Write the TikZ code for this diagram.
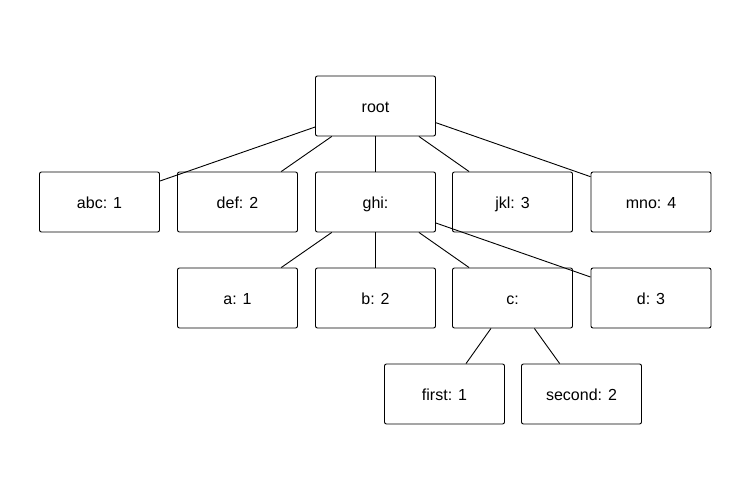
\documentclass[tikz,border=0pt]{standalone}
\usepackage{fontspec}
\setmainfont{Liberation Sans}
\begin{document}
\begin{tikzpicture}[x=1pt,y=-1pt,
  box/.style={draw,line width=0.9pt,rounded corners=2pt,minimum width=120pt,minimum height=60pt,inner sep=0pt,text height=13pt,text depth=0pt,font=\fontsize{16}{19}\selectfont},
  edge/.style={line width=0.9pt}]
\useasboundingbox (0,0) rectangle (750,500);
\node[box] (root) at (375.5,106) {root};
\node[box] (abc) at (99.5,202) {abc: 1};
\node[box] (def) at (237.5,202) {def: 2};
\node[box] (ghi) at (375.5,202) {ghi:};
\node[box] (jkl) at (512.5,202) {jkl: 3};
\node[box] (mno) at (651,202) {mno: 4};
\node[box] (a) at (237.5,298) {a: 1};
\node[box] (b) at (375.5,298) {b: 2};
\node[box] (c) at (512.5,298) {c:};
\node[box] (d) at (651,298) {d: 3};
\node[box] (first) at (444.5,394) {first: 1};
\node[box] (second) at (581.5,394) {second: 2};
\draw[edge] (root) -- (abc);
\draw[edge] (root) -- (def);
\draw[edge] (root) -- (ghi);
\draw[edge] (root) -- (jkl);
\draw[edge] ([yshift=-16.7pt]root.east) -- ([yshift=25.3pt]mno.west);
\draw[edge] (ghi) -- (a);
\draw[edge] (ghi) -- (b);
\draw[edge] (ghi) -- (c);
\draw[edge] (ghi) -- (d);
\draw[edge] (c) -- (first);
\draw[edge] (c) -- (second);
\end{tikzpicture}
\end{document}
